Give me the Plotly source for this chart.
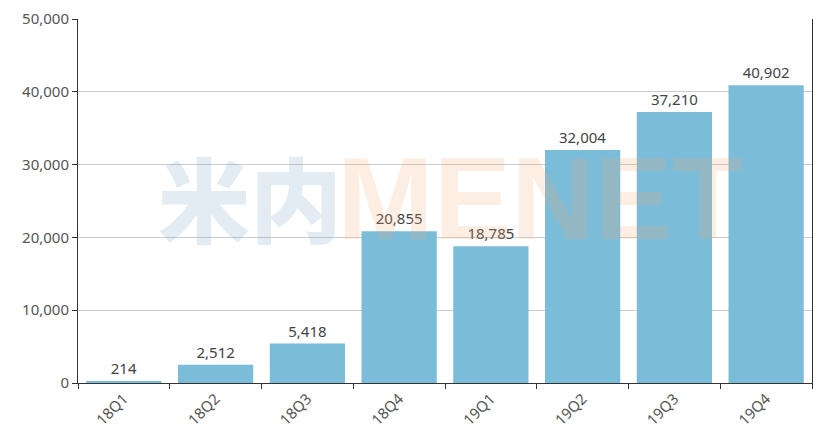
import plotly.graph_objects as go

categories = ["18Q1", "18Q2", "18Q3", "18Q4", "19Q1", "19Q2", "19Q3", "19Q4"]
values = [214, 2512, 5418, 20855, 18785, 32004, 37210, 40902]
y_ticks = [0, 10000, 20000, 30000, 40000, 50000]

font_family = "Microsoft YaHei, Noto Sans, DejaVu Sans, sans-serif"

fig = go.Figure()
fig.add_trace(go.Bar(
    x=categories, y=values,
    marker=dict(color="#7bbcd9", line=dict(width=0)),
    text=[f"{v:,}" for v in values],
    textposition="outside",
    textfont=dict(size=15, color="#444444", family=font_family),
    cliponaxis=False,
))

fig.update_layout(
    width=827, height=436,
    margin=dict(l=70, r=23, t=11, b=61),
    paper_bgcolor="white", plot_bgcolor="white",
    bargap=0.18,
    showlegend=False,
    font=dict(family=font_family, size=15, color="#555555"),
    xaxis=dict(
        automargin=False,
        showline=True, linecolor="#333333", linewidth=1,
        ticks="outside", ticklen=5, tickcolor="#333333",
        tickson="boundaries", tickangle=-45,
        tickfont=dict(size=15, color="#555555"),
        showgrid=False,
    ),
    yaxis=dict(
        automargin=False,
        range=[0, 50000], tickvals=y_ticks, tickformat=",",
        showline=True, mirror=True, linecolor="#333333", linewidth=1,
        ticks="outside", ticklen=5, tickcolor="#333333",
        showgrid=True, gridcolor="#cccccc", zeroline=False,
        tickfont=dict(size=15, color="#555555"),
    ),
    annotations=[
        dict(text="米内", xref="paper", yref="paper", x=0.362, y=0.515,
             xanchor="right", showarrow=False,
             font=dict(size=92, weight=900, color="rgba(115,160,190,0.2)",
                       family="Noto Sans CJK SC, sans-serif")),
        dict(text="<b>MENET</b>", xref="paper", yref="paper", x=0.350, y=0.505,
             xanchor="left", showarrow=False,
             font=dict(size=116, color="rgba(245,170,115,0.2)",
                       family="Liberation Sans, Arial, sans-serif")),
    ],
)

fig.write_html("out.html")
